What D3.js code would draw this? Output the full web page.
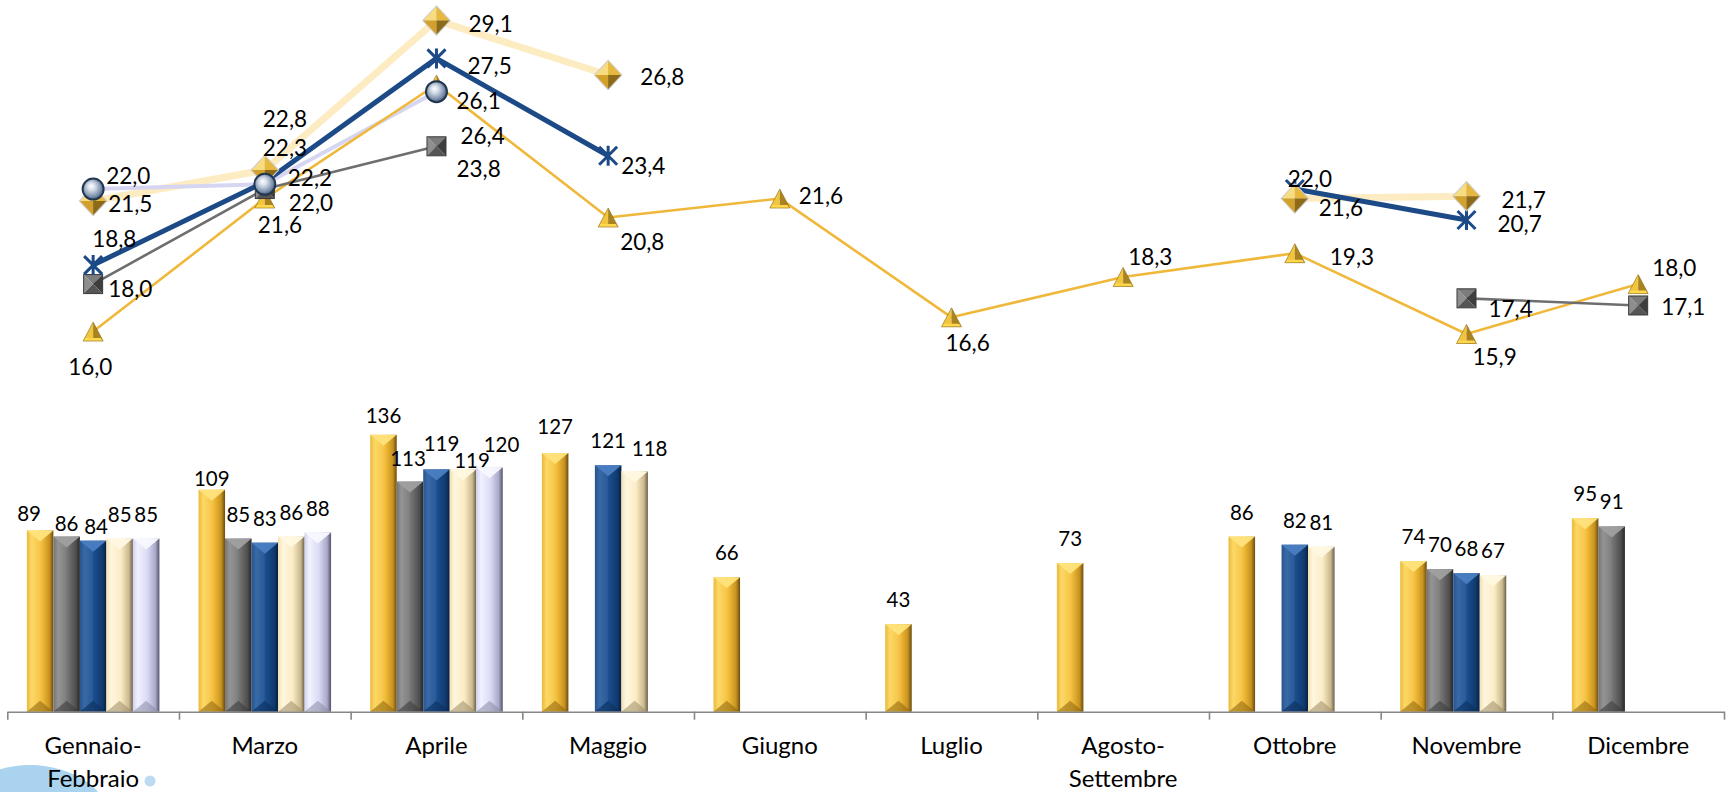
<!DOCTYPE html>
<html><head><meta charset="utf-8">
<script src="https://cdn.jsdelivr.net/npm/d3@7"></script>
<style>
body{margin:0;background:#fff}
svg{display:block}
text{font-family:Lato,"Noto Sans",sans-serif;fill:#000}
</style>
</head><body>
<svg id="chart" width="1733" height="792"></svg>
<script>
// ---------------- DATA ----------------
const categories = ["Gennaio-Febbraio","Marzo","Aprile","Maggio","Giugno","Luglio","Agosto-Settembre","Ottobre","Novembre","Dicembre"];

// bars (primary axis)
const barsGold  = [89,109,136,127,66,43,73,86,74,95];
const barsGray  = [86,85,113,null,null,null,null,null,70,91];
const barsBlue  = [84,83,119,121,null,null,null,82,68,null];
const barsCream = [85,86,119,118,null,null,null,81,67,null];
const barsLav   = [85,88,120,null,null,null,null,null,null,null];

// lines (secondary axis)
const lineGold  = [16.0,21.6,26.4,20.8,21.6,16.6,18.3,19.3,15.9,18.0];
const lineGray  = [18.0,22.0,23.8,null,null,null,null,null,17.4,17.1];
const lineBlue  = [18.8,22.3,27.5,23.4,null,null,null,22.0,20.7,null];
const lineCream = [21.5,22.8,29.1,26.8,null,null,null,21.6,21.7,null];
const lineLav   = [22.0,22.2,26.1,null,null,null,null,null,null,null];

const barDomain  = [0,350];
const lineDomain = [0,30];

// ---------------- LAYOUT / STYLE ----------------
const W = 1733, H = 792;
const plot = {left:7.3, right:1724, top:-1, bottom:711.7};

// label offsets for line points: [dx of left edge from marker, dy of text centre]
const labOffGold  = [[-25,35],[-7,26],[24,51],[12,24],[19,-3],[-6,25],[5,-20],[35,3],[6,23],[14,-17]];
const labOffGray  = [[15,4],[24,13],[20,22],null,null,null,null,null,[22,10],[23,1]];
const labOffBlue  = [[-1,-27],[-2,-34],[31,7],[13,10],null,null,null,[-7,-11],[31,4],null];
const labOffCream = [[15,3],[-2,-52],[32,3],[32,1],null,null,null,[24,9],[35,3],null];
const labOffLav   = [[13,-14],[23,-7],[20,9],null,null,null,null,null,null,null];

// bar label nudges "series-category": [dx, dy of centre above bar top]
const barLabelDefault = [0,-25];
const barLabelNudge = {"0-0":[-11,-17],"1-0":[0,-14],"2-0":[3,-15],"0-1":[0,-12],"0-2":[0,-20],
                       "1-2":[-2,-24],"2-2":[5,-26],"3-2":[9,-9],"4-2":[12,-23],"3-3":[15,-23],"0-3":[0,-27]};

const barStyles = [
  {key:"gold",  values:barsGold,  stops:["#e9b532","#fdd65c","#f4bf3c","#c8931f","#6a4c0e"], top:"#ffe37c", bottom:"#8a6410"},
  {key:"gray",  values:barsGray,  stops:["#6c6c6c","#8e8e8e","#737373","#4e4e4e","#262626"], top:"#a0a0a0", bottom:"#3a3a3a"},
  {key:"blue",  values:barsBlue,  stops:["#1b4a86","#2d61a3","#194c8c","#103a6e","#08203f"], top:"#4a80c2", bottom:"#0d2d57"},
  {key:"cream", values:barsCream, stops:["#f1dfae","#fff6dc","#fbecc5","#cbb98f","#6b604c"], top:"#fff8e2", bottom:"#9d8c66"},
  {key:"lav",   values:barsLav,   stops:["#cdcfee","#f1f1ff","#d9d9f4","#a8a8c8","#53536a"], top:"#f8f8ff", bottom:"#8a8aa6"}
];

const lineStyles = {
  cream:{values:lineCream, color:"#fdebc2", width:7,   marker:"diamond", off:labOffCream},
  lav:  {values:lineLav,   color:"#d6d6f3", width:4,   marker:"circle",  off:labOffLav},
  gold: {values:lineGold,  color:"#f0b83a", width:2.6, marker:"triangle",off:labOffGold},
  gray: {values:lineGray,  color:"#6e6e6e", width:2.6, marker:"square",  off:labOffGray},
  blue: {values:lineBlue,  color:"#1c4a87", width:5,   marker:"star",    off:labOffBlue}
};
const lineOrder   = ["cream","lav","gold","gray","blue"];
const markerOrder = ["gold","gray","blue","cream","lav"];

// ---------------- DRAW ----------------
const svg = d3.select("#chart");
const defs = svg.append("defs");

// decoration bottom-left
svg.append("ellipse").attr("cx",30).attr("cy",826).attr("rx",82).attr("ry",61).attr("fill","#a9d3ee");
svg.append("circle").attr("cx",150).attr("cy",781).attr("r",5.5).attr("fill","#bcdaf0");

const x = d3.scaleBand().domain(categories).range([plot.left, plot.right]).paddingInner(0).paddingOuter(0);
const groupW = x.bandwidth()*0.772;
const groupOff = (x.bandwidth()-groupW)/2;
const xs = d3.scaleBand().domain(barStyles.map(d=>d.key)).range([0,groupW]).padding(0);
const yBar = d3.scaleLinear().domain(barDomain).range([plot.bottom, plot.top]);
const yLine = d3.scaleLinear().domain(lineDomain).range([plot.bottom, plot.top]);

// gradients for bars
barStyles.forEach(s=>{
  const g = defs.append("linearGradient").attr("id","bar-"+s.key).attr("x1","0").attr("x2","1").attr("y1","0").attr("y2","0");
  [0,0.18,0.55,0.85,1].forEach((o,i)=>g.append("stop").attr("offset",o).attr("stop-color",s.stops[i]));
});
// circle gradient
const rg = defs.append("radialGradient").attr("id","sphere").attr("cx","0.45").attr("cy","0.45").attr("r","0.6").attr("fx","0.4").attr("fy","0.35");
[[0,"#ffffff"],[0.3,"#d6dde8"],[0.7,"#8195b0"],[1,"#3c5270"]].forEach(d=>rg.append("stop").attr("offset",d[0]).attr("stop-color",d[1]));

// bars
const gBars = svg.append("g");
const base = yBar(0);
barStyles.forEach((s,si)=>{
  s.values.forEach((v,ci)=>{
    if(v==null) return;
    const bx = x(categories[ci]) + groupOff + xs(s.key);
    const bw = xs.bandwidth();
    const top = yBar(v);
    const bev = 11;
    gBars.append("rect").attr("x",bx).attr("y",top).attr("width",bw).attr("height",base-top).attr("fill","url(#bar-"+s.key+")");
    gBars.append("path").attr("d",`M${bx},${top}L${bx+bw},${top}L${bx+bw/2},${top+bev}Z`).attr("fill",s.top).attr("opacity",0.95);
    gBars.append("path").attr("d",`M${bx},${top}L${bx+bw/2},${top+bev}L${bx+bw/2},${base-bev}L${bx},${base}Z`).attr("fill","#fff").attr("opacity",0.06);
    gBars.append("path").attr("d",`M${bx},${base}L${bx+bw},${base}L${bx+bw/2},${base-bev}Z`).attr("fill",s.bottom).attr("opacity",0.55);
    const nd = barLabelNudge[si+"-"+ci] || barLabelDefault;
    gBars.append("text").attr("x",bx+bw/2+nd[0]).attr("y",top+nd[1]).attr("text-anchor","middle")
      .attr("dominant-baseline","central").attr("font-size",20.5).text(v);
  });
});

// axis
const xt = d3.scaleLinear().domain([0,categories.length]).range([plot.left, plot.right]);
const ax = svg.append("g").attr("transform",`translate(0,${plot.bottom})`)
  .call(d3.axisBottom(xt).tickValues(d3.range(categories.length+1)).tickFormat("").tickSize(8).tickSizeOuter(0));
ax.select(".domain").attr("stroke","#868686").attr("stroke-width",1.6);
ax.selectAll(".tick line").attr("stroke","#868686").attr("stroke-width",1.6);

// category labels
const gCat = svg.append("g");
categories.forEach(c=>{
  const parts = c.includes("-") ? [c.slice(0,c.indexOf("-")+1), c.slice(c.indexOf("-")+1)] : [c];
  const t = gCat.append("text").attr("x",x(c)+x.bandwidth()/2).attr("y",754).attr("text-anchor","middle").attr("font-size",24);
  parts.forEach((p,i)=>t.append("tspan").attr("x",x(c)+x.bandwidth()/2).attr("dy",i?33:0).text(p));
});

// lines
const cx = i => x(categories[i]) + x.bandwidth()/2;
const gLines = svg.append("g");
lineOrder.forEach(k=>{
  const s = lineStyles[k];
  const line = d3.line().defined(d=>d!=null).x((d,i)=>cx(i)).y(d=>yLine(d));
  gLines.append("path").attr("d",line(s.values)).attr("fill","none").attr("stroke",s.color)
    .attr("stroke-width",s.width).attr("stroke-linejoin","round");
});

// markers
function drawMarker(g,type,px,py){
  if(type==="triangle"){
    const w=20,h=19,t=py-h/2,b=py+h/2;
    g.append("path").attr("d",`M${px},${t}L${px},${b}L${px-w/2},${b}Z`).attr("fill","#f2c53f");
    g.append("path").attr("d",`M${px},${t}L${px+w/2},${b}L${px},${b}Z`).attr("fill","#a8831f");
    g.append("path").attr("d",`M${px-w/2},${b}L${px+w/2},${b}L${px+w/2-2.5},${b-3}L${px-w/2+2.5},${b-3}Z`).attr("fill","#ffd84e");
    g.append("path").attr("d",`M${px},${t}L${px+w/2},${b}L${px-w/2},${b}Z`).attr("fill","none").attr("stroke","#8a6a12").attr("stroke-width",0.6);
  } else if(type==="square"){
    const s=9.5,l=px-s,r=px+s,t=py-s,b=py+s;
    g.append("path").attr("d",`M${l},${t}L${r},${t}L${px},${py}Z`).attr("fill","#7c7c7c");
    g.append("path").attr("d",`M${l},${t}L${px},${py}L${l},${b}Z`).attr("fill","#8e8e8e");
    g.append("path").attr("d",`M${r},${t}L${r},${b}L${px},${py}Z`).attr("fill","#3e3e3e");
    g.append("path").attr("d",`M${l},${b}L${px},${py}L${r},${b}Z`).attr("fill","#555");
    g.append("rect").attr("x",l).attr("y",t).attr("width",2*s).attr("height",2*s).attr("fill","none").attr("stroke","#3a3a3a").attr("stroke-width",1);
  } else if(type==="diamond"){
    const w=13,h=14;
    g.append("path").attr("d",`M${px},${py-h-1.5}L${px+w+1.5},${py}L${px},${py+h+1.5}L${px-w-1.5},${py}Z`).attr("fill","#cfcfcf");
    g.append("path").attr("d",`M${px},${py-h}L${px},${py}L${px-w},${py}Z`).attr("fill","#f8dc80");
    g.append("path").attr("d",`M${px},${py-h}L${px+w},${py}L${px},${py}Z`).attr("fill","#e6b83e");
    g.append("path").attr("d",`M${px-w},${py}L${px},${py}L${px},${py+h}Z`).attr("fill","#d2a12c");
    g.append("path").attr("d",`M${px+w},${py}L${px},${py+h}L${px},${py}Z`).attr("fill","#8c6a17");
  } else if(type==="circle"){
    g.append("circle").attr("cx",px).attr("cy",py).attr("r",10.5).attr("fill","url(#sphere)").attr("stroke","#22364f").attr("stroke-width",2);
  } else if(type==="star"){
    const s=9;
    g.append("path").attr("d",`M${px-s},${py-s}L${px+s},${py+s}M${px-s},${py+s}L${px+s},${py-s}M${px},${py-s-1}L${px},${py+s+1}`)
      .attr("stroke","#1c4a87").attr("stroke-width",3).attr("fill","none");
  }
}
const gMarks = svg.append("g");
markerOrder.forEach(k=>{
  const s = lineStyles[k];
  s.values.forEach((v,i)=>{ if(v!=null) drawMarker(gMarks,s.marker,cx(i),yLine(v)); });
});

// line labels
const gLab = svg.append("g");
markerOrder.forEach(k=>{
  const s = lineStyles[k];
  s.values.forEach((v,i)=>{
    if(v==null) return;
    const o = s.off[i] || [12,0];
    gLab.append("text").attr("x",cx(i)+o[0]).attr("y",yLine(v)+o[1]).attr("dominant-baseline","central")
      .attr("font-size",22.5).text(v.toFixed(1).replace(".",","));
  });
});
</script>
</body></html>
